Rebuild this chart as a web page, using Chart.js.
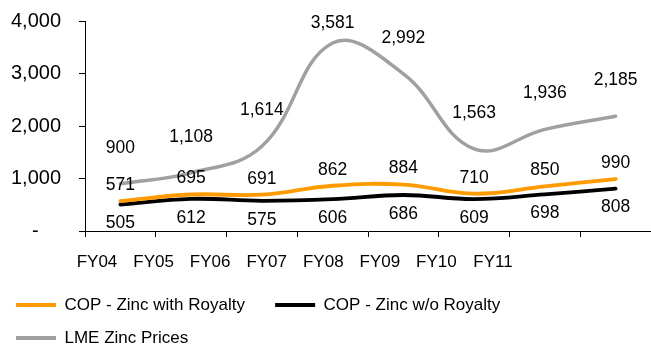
<!DOCTYPE html>
<html>
<head>
<meta charset="utf-8">
<script src="https://cdn.jsdelivr.net/npm/chart.js@4"></script>
<style>
  html, body { margin: 0; padding: 0; background: #fff; }
  #wrap { width: 651px; height: 349px; }
</style>
</head>
<body>
<div id="wrap"><canvas id="zincChart"></canvas></div>
<script>
// Chart data
const fiscalYears = ['FY04', 'FY05', 'FY06', 'FY07', 'FY08', 'FY09', 'FY10', 'FY11'];
const copWithRoyalty = [571, 695, 691, 862, 884, 710, 850, 990];
const copWithoutRoyalty = [505, 612, 575, 606, 686, 609, 698, 808];
const lmeZincPrices = [900, 1108, 1614, 3581, 2992, 1563, 1936, 2185];
const yTicks = [0, 1000, 2000, 3000, 4000];

const FONT = "'Liberation Sans', Arial, sans-serif";

// Format numbers like the source: thousands separator, dash for zero
function formatValue(v) {
  return v === 0 ? '-    ' : v.toLocaleString('en-US');
}

// Draws the value above / below each point
const valueLabels = {
  id: 'valueLabels',
  afterDatasetsDraw(chart) {
    const ctx = chart.ctx;
    ctx.save();
    ctx.font = `17.5px ${FONT}`;
    ctx.fillStyle = '#000';
    ctx.textAlign = 'center';
    ctx.textBaseline = 'middle';
    chart.data.datasets.forEach((ds, i) => {
      const meta = chart.getDatasetMeta(i);
      meta.data.forEach((pt, j) => {
        const y = Math.max(chart.chartArea.top + 2, pt.y + ds.labelOffset);
        ctx.fillText(formatValue(ds.data[j]), pt.x, y);
      });
    });
    ctx.restore();
  }
};

// no extra side padding for the horizontal axes
function noSidePadding(s) {
  s.paddingLeft = 0;
  s.paddingRight = 0;
}

function createZincChart() {
  const ctx = document.getElementById('zincChart').getContext('2d');

  new Chart(ctx, {
    type: 'line',
    data: {
      labels: fiscalYears,
      datasets: [
        {
          label: 'COP - Zinc with Royalty',
          data: copWithRoyalty,
          borderColor: '#FF9A00',
          backgroundColor: '#FF9A00',
          borderWidth: 3.8,
          labelOffset: -16
        },
        {
          label: 'COP - Zinc w/o Royalty',
          data: copWithoutRoyalty,
          borderColor: '#000000',
          backgroundColor: '#000000',
          borderWidth: 3.8,
          labelOffset: 19
        },
        {
          label: 'LME Zinc Prices',
          data: lmeZincPrices,
          borderColor: '#A0A0A0',
          backgroundColor: '#A0A0A0',
          borderWidth: 3.5,
          labelOffset: -36
        }
      ]
    },
    options: {
      responsive: true,
      maintainAspectRatio: false,
      animation: false,
      layout: { padding: { top: 21, right: 0, bottom: -7.5, left: 0 } },
      elements: {
        point: { radius: 0 },
        line: { tension: 0.4, borderCapStyle: 'round' }
      },
      scales: {
        x: {
          type: 'category',
          offset: true,
          weight: 0,
          afterFit: noSidePadding,
          grid: { offset: true, drawOnChartArea: false, tickLength: 6, color: '#000' },
          border: { color: '#000' },
          ticks: { display: false }
        },
        // label row for the year names, spaced like the source picture
        xl: {
          type: 'linear',
          position: 'bottom',
          weight: 1,
          min: -0.212,
          max: 9.793,
          grid: { display: false, drawTicks: false },
          border: { display: false },
          afterFit: s => { s.height = 43.5; noSidePadding(s); },
          ticks: {
            stepSize: 1,
            includeBounds: false,
            autoSkip: false,
            maxRotation: 0,
            padding: 15,
            color: '#000',
            font: { family: FONT, size: 17 },
            callback: v => (Number.isInteger(v) && v >= 0 && v < fiscalYears.length) ? fiscalYears[v] : ''
          }
        },
        y: {
          min: 0,
          max: 4000,
          afterFit: s => { s.width = 85; s.paddingTop = 0; s.paddingBottom = 0; },
          afterBuildTicks: s => { s.ticks = yTicks.map(v => ({ value: v })); },
          grid: { drawOnChartArea: false, tickLength: 6, color: '#000' },
          border: { color: '#000' },
          ticks: {
            padding: 18,
            color: '#000',
            font: { family: FONT, size: 20 },
            callback: v => formatValue(v)
          }
        }
      },
      plugins: {
        tooltip: { enabled: false },
        legend: {
          position: 'bottom',
          align: 'start',
          labels: {
            boxWidth: 40,
            boxHeight: 4,
            padding: 16,
            color: '#000',
            font: { family: FONT, size: 17 },
            generateLabels: chart => Chart.defaults.plugins.legend.labels.generateLabels(chart)
              .map(item => ({ ...item, text: item.text + '   ', lineWidth: 0 }))
          }
        }
      }
    },
    plugins: [valueLabels]
  });
}

document.addEventListener('DOMContentLoaded', createZincChart);
</script>
</body>
</html>
